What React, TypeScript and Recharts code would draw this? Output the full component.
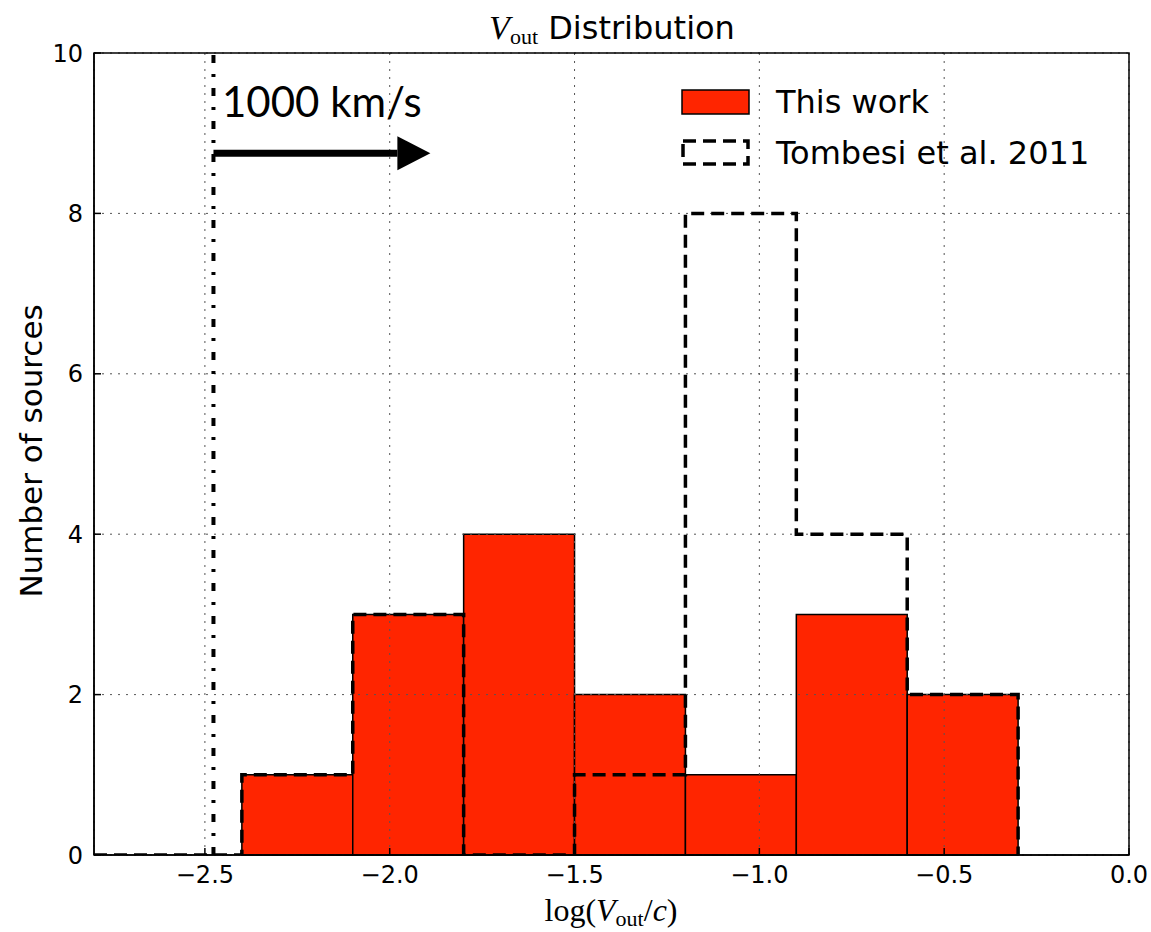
import React from 'react';
import {
  ComposedChart,
  Line,
  XAxis,
  YAxis,
  CartesianGrid,
  ReferenceArea,
  ReferenceLine,
} from 'recharts';

// histogram bin edges in log(Vout/c), 0.3 wide
const binEdges = [-2.4, -2.1, -1.8, -1.5, -1.2, -0.9, -0.6, -0.3];
const thisWorkCounts = [1, 3, 4, 2, 1, 3, 2];
const tombesiCounts = [1, 3, 0, 1, 8, 4, 2];

const seriesNames = ['This work', 'Tombesi et al. 2011'];

const xDomain = [-2.8, 0.0];
const yDomain = [0, 10];
const xTicks = [-2.5, -2.0, -1.5, -1.0, -0.5, 0.0];
const yTicks = [0, 2, 4, 6, 8, 10];

// 1000 km/s marker and arrow
const v1000 = Math.log10(1000 / 299792.458);
const arrowTip = -1.89;
const arrowLevel = 8.75;

const RED = '#ff2500';
const W = 1151;
const H = 932;

const thisWorkBins = thisWorkCounts.map((c, i) => ({ lo: binEdges[i], hi: binEdges[i + 1], count: c }));

// step outline for Tombesi (starts at the left limit, drops to 0 after the last bin)
const tombesiSteps = [
  { edge: xDomain[0], count: 0 },
  ...tombesiCounts.map((c, i) => ({ edge: binEdges[i], count: c })),
  { edge: binEdges[binEdges.length - 1], count: 0 },
];

const fmtX = (v: number) => (v < 0 ? '\u2212' + Math.abs(v).toFixed(1) : v.toFixed(1));

const sans = '"DejaVu Sans", sans-serif';
const serif = '"Liberation Serif", "DejaVu Serif", serif';

const ArrowShape = (p: any) => {
  const head = 33;
  return (
    <g>
      <line x1={p.x1} y1={p.y1} x2={p.x2 - head} y2={p.y2} stroke="#000" strokeWidth={7} />
      <polygon
        points={`${p.x2 - head},${p.y2 - 17} ${p.x2},${p.y2} ${p.x2 - head},${p.y2 + 17}`}
        fill="#000"
      />
    </g>
  );
};

export default function App() {
  return (
    <div style={{ position: 'absolute', left: 0, top: 0, width: W, height: H, background: '#fff' }}>
      <ComposedChart
        width={W}
        height={H}
        data={tombesiSteps}
        margin={{ top: 53, right: 22, bottom: 0, left: 0 }}
      >
        <XAxis
          dataKey="edge"
          type="number"
          domain={xDomain}
          ticks={xTicks}
          allowDataOverflow
          height={77}
          tickFormatter={fmtX}
          tick={{ fill: '#000', fontSize: 24, fontFamily: sans }}
          tickSize={-7}
          tickMargin={18}
          tickLine={{ stroke: '#000', strokeWidth: 1.5 }}
          axisLine={{ stroke: '#000', strokeWidth: 1.5 }}
        />
        <XAxis
          xAxisId="top"
          orientation="top"
          type="number"
          domain={xDomain}
          ticks={xTicks}
          allowDataOverflow
          height={0}
          tick={false}
          tickSize={-7}
          tickLine={{ stroke: '#000', strokeWidth: 1.5 }}
          axisLine={false}
        />
        <YAxis
          type="number"
          domain={yDomain}
          ticks={yTicks}
          allowDataOverflow
          width={94}
          tick={{ fill: '#000', fontSize: 24, fontFamily: sans }}
          tickSize={-7}
          tickMargin={18}
          tickLine={{ stroke: '#000', strokeWidth: 1.5 }}
          axisLine={{ stroke: '#000', strokeWidth: 1.5 }}
        />
        <YAxis
          yAxisId="right"
          orientation="right"
          type="number"
          domain={yDomain}
          ticks={yTicks}
          allowDataOverflow
          width={0}
          tick={false}
          tickSize={-7}
          tickLine={{ stroke: '#000', strokeWidth: 1.5 }}
          axisLine={false}
        />

        {thisWorkBins.map((b) => (
          <ReferenceArea
            key={b.lo}
            x1={b.lo}
            x2={b.hi}
            y1={0}
            y2={b.count}
            fill={RED}
            fillOpacity={1}
            stroke="#000"
            strokeWidth={1.5}
            zIndex={100}
          />
        ))}

        <CartesianGrid stroke="#555" strokeDasharray="2 6" strokeWidth={1} zIndex={350} />

        <Line
          name={seriesNames[1]}
          dataKey="count"
          type="stepAfter"
          stroke="#000"
          strokeWidth={3.5}
          strokeDasharray="13 7"
          dot={false}
          activeDot={false}
          isAnimationActive={false}
          zIndex={400}
        />

        <ReferenceLine
          x={v1000}
          stroke="#000"
          strokeWidth={4}
          strokeDasharray="8 11 3 11"
          zIndex={450}
        />
        <ReferenceLine
          segment={[
            { x: v1000, y: arrowLevel },
            { x: arrowTip, y: arrowLevel },
          ]}
          shape={ArrowShape}
          zIndex={460}
        />

        <ReferenceArea
          x1={xDomain[0]}
          x2={xDomain[1]}
          y1={yDomain[0]}
          y2={yDomain[1]}
          fill="none"
          stroke="#000"
          strokeWidth={1.5}
          zIndex={500}
        />
      </ComposedChart>

      <svg
        width={W}
        height={H}
        style={{ position: 'absolute', left: 0, top: 0, pointerEvents: 'none' }}
      >
        {/* title */}
        <text x={612} y={39} textAnchor="middle" fill="#000">
          <tspan fontFamily={serif} fontStyle="italic" fontSize={34}>V</tspan>
          <tspan fontFamily={serif} fontSize={22} dy={5}>out</tspan>
          <tspan fontFamily={sans} fontSize={32} dy={-5}>{' Distribution'}</tspan>
        </text>

        {/* x label */}
        <text x={611} y={921} textAnchor="middle" fill="#000" fontFamily={serif} fontSize={32}>
          <tspan>log(</tspan>
          <tspan fontStyle="italic">V</tspan>
          <tspan fontSize={22} dy={5}>out</tspan>
          <tspan dy={-5}>/</tspan>
          <tspan fontStyle="italic">c</tspan>
          <tspan>)</tspan>
        </text>

        {/* y label */}
        <text
          transform="translate(42,451) rotate(-90)"
          textAnchor="middle"
          fill="#000"
          fontFamily={sans}
          fontSize={31}
        >
          Number of sources
        </text>

        {/* annotation */}
        <text x={222} y={117} fill="#000" fontFamily='Lato, "Open Sans", sans-serif' fontSize={42}>
          1000 km/s
        </text>

        {/* legend */}
        <rect x={682} y={90} width={67} height={24} fill={RED} stroke="#000" strokeWidth={1.5} />
        <text x={776} y={113} fill="#000" fontFamily={sans} fontSize={32}>
          {seriesNames[0]}
        </text>
        <rect
          x={683}
          y={141}
          width={65}
          height={23}
          fill="none"
          stroke="#000"
          strokeWidth={3.5}
          strokeDasharray="13 7"
        />
        <text x={776} y={164} fill="#000" fontFamily={sans} fontSize={32}>
          {seriesNames[1]}
        </text>
      </svg>
    </div>
  );
}
